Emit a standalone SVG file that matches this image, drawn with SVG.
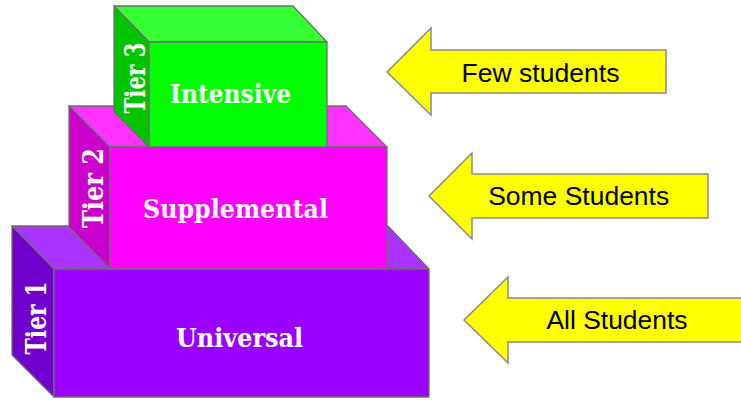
<svg xmlns="http://www.w3.org/2000/svg" width="741" height="400" viewBox="0 0 741 400">
<style>
.edge{stroke:#6e6e6e;stroke-width:1.3;stroke-linejoin:round}
.lbl{font-family:"DejaVu Serif","Liberation Serif",serif;font-size:26px;font-weight:bold;fill:#fff;text-anchor:middle}
.tier{font-family:"DejaVu Serif","Liberation Serif",serif;font-size:27px;font-weight:bold;fill:#fff;text-anchor:middle}
.arrow{fill:#ffff00;stroke:#8a8a8a;stroke-width:1.5;stroke-linejoin:miter}
.atxt{font-family:"Liberation Sans",Arial,sans-serif;font-size:25px;fill:#000;text-anchor:middle}
</style>
<rect width="741" height="400" fill="#fff"/>
<g id="tier1">
<polygon class="edge" points="12,226 388,226 429,269 54,269" fill="#aa33ff"/>
<polygon class="edge" points="12,226 54,269 54,397 12,355" fill="#7000cc"/>
<rect class="edge" x="54" y="269" width="375" height="128" fill="#9900ff"/>
<text class="lbl" x="239.5" y="346.7" textLength="127" lengthAdjust="spacingAndGlyphs">Universal</text>
<text class="tier" transform="translate(46,318) rotate(-90)" textLength="73" lengthAdjust="spacingAndGlyphs">Tier 1</text>
</g>
<g id="tier2">
<polygon class="edge" points="69,106 346,106 387,147 110,147" fill="#ff33ff"/>
<polygon class="edge" points="69,106 110,147 110,269 69,227" fill="#cc00cc"/>
<rect class="edge" x="110" y="147" width="277" height="122" fill="#ff00ff"/>
<text class="lbl" x="235.5" y="218" textLength="185" lengthAdjust="spacingAndGlyphs">Supplemental</text>
<text class="tier" transform="translate(103,188) rotate(-90)" textLength="80" lengthAdjust="spacingAndGlyphs">Tier 2</text>
</g>
<g id="tier3">
<polygon class="edge" points="114,6 293,6 327,42 149,42" fill="#33ff33"/>
<polygon class="edge" points="114,6 149,42 149,147 114,112" fill="#00c400"/>
<rect class="edge" x="149" y="42" width="178" height="105" fill="#00ff00"/>
<text class="lbl" x="230.5" y="103.3" textLength="121" lengthAdjust="spacingAndGlyphs">Intensive</text>
<text class="tier" transform="translate(145,78) rotate(-90)" textLength="71" lengthAdjust="spacingAndGlyphs">Tier 3</text>
</g>
<g id="arrow-few">
<polygon class="arrow" points="387,72 431,28 431,50 666,50 666,93 431,93 431,115"/>
<text class="atxt" x="540.5" y="81.7" textLength="158" lengthAdjust="spacingAndGlyphs">Few students</text>
</g>
<g id="arrow-some">
<polygon class="arrow" points="429,196 472,153 472,174 708,174 708,218 472,218 472,239"/>
<text class="atxt" x="578.7" y="205" textLength="181" lengthAdjust="spacingAndGlyphs">Some Students</text>
</g>
<g id="arrow-all">
<polygon class="arrow" points="464,320 508,277 508,298 746,298 746,342 508,342 508,363"/>
<text class="atxt" x="617" y="329" textLength="141" lengthAdjust="spacingAndGlyphs">All Students</text>
</g>
<g id="connectors"/>
</svg>
